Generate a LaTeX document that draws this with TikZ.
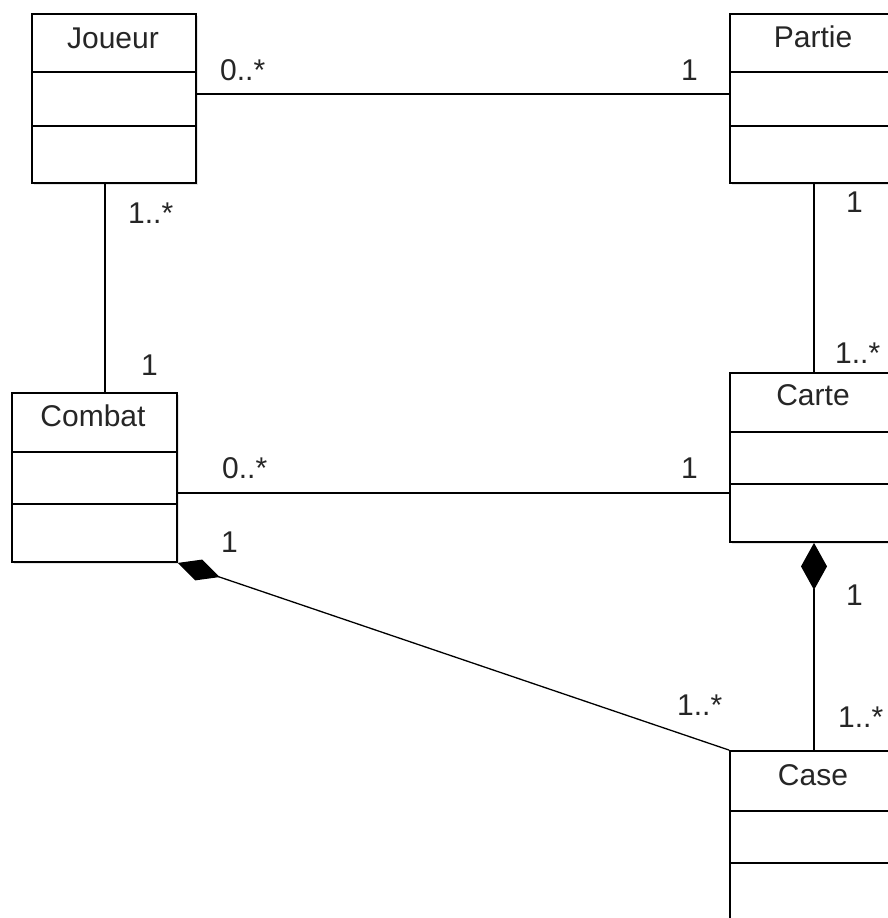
\documentclass[tikz,border=0pt]{standalone}
\usepackage{fontspec}
\setmainfont{Liberation Sans}
\usetikzlibrary{arrows.meta,shadows,calc}
\tikzset{
  umlbox/.style={draw, line width=1.8pt, fill=white, rectangle, inner sep=0pt,
    minimum width=#1, minimum height=169pt,
    drop shadow={shadow xshift=2pt, shadow yshift=-2pt, opacity=0.2}},
  umlbox/.default=165pt,
  sep/.style={line width=1.8pt},
  title/.style={anchor=base, inner sep=0pt, font=\fontsize{30}{36}\selectfont, text=black!85},
  mult/.style={anchor=base west, inner sep=0pt, font=\fontsize{30}{36}\selectfont, text=black!85},
  assoc/.style={line width=1.3pt},
}
\begin{document}
\begin{tikzpicture}[x=1pt,y=-1pt]
\useasboundingbox (0,0) rectangle (888,918);
\clip (0,0) rectangle (888,918);
\fill[white] (0,0) rectangle (888,918);

% class boxes
\node[umlbox=164pt] (joueur) at (114,98.5) {};
\node[umlbox=166pt] (partie) at (813,98.5) {};
\node[umlbox=165pt] (combat) at (94.5,477.5) {};
\node[umlbox=166pt] (carte) at (813,457.5) {};
\node[umlbox=166pt] (case) at (813,835.5) {};

% compartments
\foreach \n/\a/\b in {joueur/59/113, partie/59/113, combat/60/112, carte/60/112, case/61/113}{
  \draw[sep] ([yshift=-\a pt]\n.north west) -- ([yshift=-\a pt]\n.north east);
  \draw[sep] ([yshift=-\b pt]\n.north west) -- ([yshift=-\b pt]\n.north east);
}

% titles
\node[title] (tjoueur) at (113,48) {Joueur};
\node[title] (tpartie) at (813,47) {Partie};
\node[title] (tcombat) at (93,426) {Combat};
\node[title] (tcarte) at (813,405) {Carte};
\node[title] (tcase) at (813,785) {Case};

% connectors
\draw[assoc] (joueur.east |- 0,94) -- (partie.west |- 0,94);
\draw[assoc] (joueur.south west) ++(74,0) coordinate (jc) -- (jc |- combat.north);
\draw[assoc] (partie.south -| 814,0) -- (carte.north -| 814,0);
\draw[assoc] (combat.east |- 0,493) -- (carte.west |- 0,493);
\draw[assoc, -{Diamond[length=44pt,width=22pt]}] (case.north west) -- (combat.south east);
\draw[assoc, -{Diamond[length=47pt,width=26pt]}] (case.north -| 814,0) -- (carte.south -| 814,0);

% multiplicities
\node[mult] (m1) at (220,80) {0..*};
\node[mult] (m2) at (681,80) {1};
\node[mult] (m3) at (128,223) {1..*};
\node[mult] (m4) at (141,375) {1};
\node[mult] (m5) at (846,212) {1};
\node[mult] (m6) at (835,363) {1..*};
\node[mult] (m7) at (222,478) {0..*};
\node[mult] (m8) at (681,478) {1};
\node[mult] (m9) at (221,552) {1};
\node[mult] (m10) at (846,605) {1};
\node[mult] (m11) at (677,715) {1..*};
\node[mult] (m12) at (838,727) {1..*};
\end{tikzpicture}
\end{document}
